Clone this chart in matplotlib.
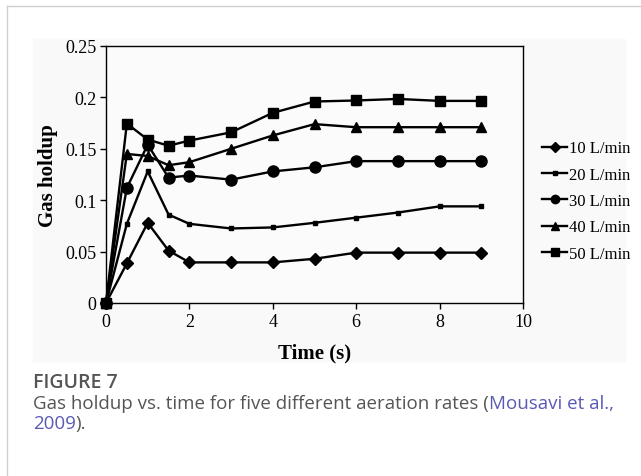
import matplotlib
matplotlib.use('Agg')
import matplotlib.pyplot as plt
import numpy as np

# Gas holdup readings for each aeration rate
time_s = [0, 0.5, 1, 1.5, 2, 3, 4, 5, 6, 7, 8, 9]
holdup_10 = [0, 0.0385, 0.078, 0.051, 0.0395, 0.0395, 0.0395, 0.043, 0.049, 0.049, 0.049, 0.049]
holdup_20 = [0, 0.077, 0.128, 0.086, 0.077, 0.0725, 0.0735, 0.078, 0.083, 0.088, 0.094, 0.094]
holdup_30 = [0, 0.112, 0.154, 0.122, 0.124, 0.120, 0.128, 0.132, 0.138, 0.138, 0.138, 0.138]
holdup_40 = [0, 0.145, 0.143, 0.134, 0.137, 0.150, 0.163, 0.174, 0.171, 0.171, 0.171, 0.171]
holdup_50 = [0, 0.1745, 0.159, 0.153, 0.158, 0.166, 0.185, 0.196, 0.197, 0.1985, 0.1966, 0.1966]
labels = ['10 L/min', '20 L/min', '30 L/min', '40 L/min', '50 L/min']

serif = 'Liberation Serif'
plt.rcParams['font.family'] = serif
W, H = 641, 477
fig = plt.figure(figsize=(W / 100, H / 100), dpi=100)
fig.patch.set_facecolor('white')

# page border lines and the pasted image background
fig.add_artist(plt.Line2D([7 / W, 7 / W], [0, 1 - 7 / H], color='#cfcfcf', lw=1))
fig.add_artist(plt.Line2D([7 / W, 1], [1 - 7 / H, 1 - 7 / H], color='#cfcfcf', lw=1))
fig.add_artist(plt.Rectangle((33 / W, 1 - 362 / H), (625 - 33) / W, (362 - 40) / H,
                             color='#f9f9f9', zorder=0))

ax = fig.add_axes([106 / W, 1 - 304 / H, (523 - 106) / W, (304 - 47) / H])
ax.set_facecolor('#fbfbfb')

series = [holdup_10, holdup_20, holdup_30, holdup_40, holdup_50]
markers = ['D', 's', 'o', '^', 's']
msizes = [6.5, 3.4, 8, 7.5, 7]
for vals, m, ms, lab in zip(series, markers, msizes, labels):
    ax.plot(time_s, vals, color='black', lw=1.7, marker=m, markersize=ms, label=lab,
            clip_on=False, zorder=3)

ax.set_xlim(0, 10)
ax.set_ylim(0, 0.25)
ax.set_xticks([0, 2, 4, 6, 8, 10])
ax.set_yticks([0, 0.05, 0.1, 0.15, 0.2, 0.25])
ax.set_yticklabels(['0', '0.05', '0.1', '0.15', '0.2', '0.25'])
ax.tick_params(direction='out', length=4, width=1, labelsize=13, pad=3)
for sp in ax.spines.values():
    sp.set_linewidth(1)

ax.set_xlabel('Time (s)', fontsize=15, fontweight='bold', labelpad=9)
ax.set_ylabel('Gas holdup', fontsize=15, fontweight='bold', labelpad=5)

ax.legend(loc='center left', bbox_to_anchor=(534 / W, 1 - 202 / H),
          bbox_transform=fig.transFigure, frameon=False, handlelength=1.5,
          handletextpad=0.1, labelspacing=0.62, borderpad=0, markerscale=0.75,
          prop={'family': serif, 'size': 12})

# caption
cap_font = 'Open Sans'
fig.text(33 / W, 1 - 383 / H, 'FIGURE 7', family=cap_font, fontsize=14,
         fontweight='semibold', color='#555555', va='center')
fig.canvas.draw()
r = fig.canvas.get_renderer()
t1 = fig.text(33 / W, 1 - 404 / H, 'Gas holdup vs. time for five different aeration rates (',
              family=cap_font, fontsize=13.5, color='#555555', va='center')
x1 = t1.get_window_extent(r).x1
fig.text(x1 / W, 1 - 404 / H, 'Mousavi et al.,', family=cap_font, fontsize=13.5,
         color='#5a5ab4', va='center')
t2 = fig.text(33 / W, 1 - 424 / H, '2009', family=cap_font, fontsize=13.5,
              color='#5a5ab4', va='center')
x2 = t2.get_window_extent(r).x1
fig.text(x2 / W, 1 - 424 / H, ').', family=cap_font, fontsize=13.5, color='#555555', va='center')

fig.savefig('out.png', dpi=100)
